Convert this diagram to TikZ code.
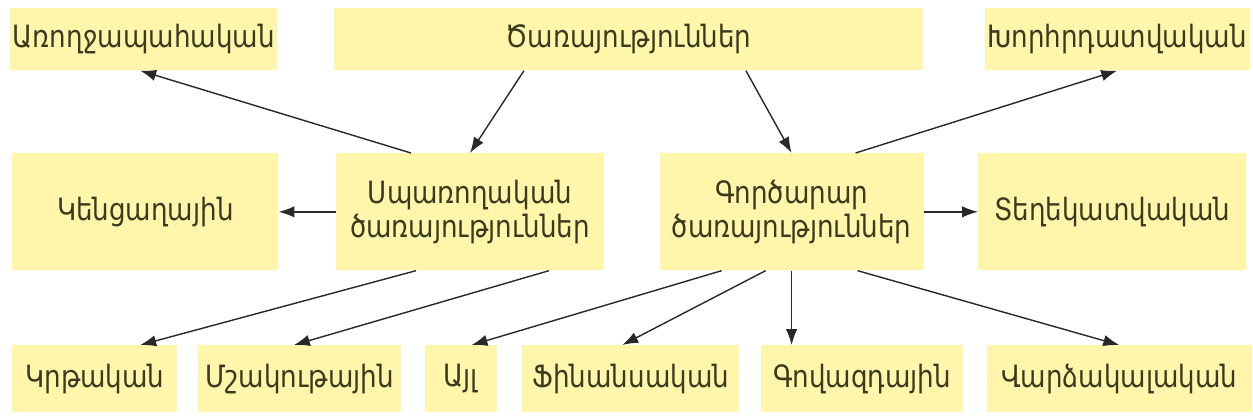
\documentclass[tikz,border=0pt]{standalone}
\usepackage{fontspec}
\setmainfont{DejaVu Sans}[FakeStretch=0.85]
\usetikzlibrary{arrows.meta,positioning}
\definecolor{boxfill}{RGB}{255,246,172}
\definecolor{boxtext}{RGB}{58,58,30}
\definecolor{linkgray}{RGB}{40,40,40}

\begin{document}
\begin{tikzpicture}[x=0.02cm,y=-0.02cm,
                    box/.style={fill=boxfill,text=boxtext,inner sep=0pt,align=center,
                                font=\fontsize{17.5}{19}\selectfont},
                    top/.style={box,minimum height=1.24cm},
                    mid/.style={box,minimum height=2.34cm},
                    low/.style={box,minimum height=1.34cm},
                    link/.style={draw=linkgray,line width=0.8pt,-{Latex[length=9pt,width=6.5pt]}}]

\useasboundingbox (0,0) rectangle (1253,419);

% upper row
\node[top,minimum width=5.34cm,anchor=north west] (heal) at (10,8) {Առողջապահական};
\node[top,minimum width=11.78cm,right=1.12cm of heal] (serv) {Ծառայություններ};
\node[top,minimum width=5.30cm,right=1.22cm of serv] (cons) {Խորհրդատվական};

% middle row
\node[mid,minimum width=5.32cm,anchor=north west] (daily) at (12,153) {Կենցաղային};
\node[mid,minimum width=5.36cm,right=1.14cm of daily] (cust) {Սպառողական\\ծառայություններ};
\node[mid,minimum width=5.28cm,right=1.10cm of cust] (bus) {Գործարար\\ծառայություններ};
\node[mid,minimum width=5.36cm,right=1.08cm of bus] (info) {Տեղեկատվական};

% lower row
\node[low,minimum width=3.30cm,anchor=north west] (edu) at (12,345) {Կրթական};
\node[low,minimum width=4.06cm,right=0.40cm of edu] (cult) {Մշակութային};
\node[low,minimum width=1.44cm,right=0.46cm of cult] (other) {Այլ};
\node[low,minimum width=4.34cm,right=0.50cm of other] (fin) {Ֆինանսական};
\node[low,minimum width=4.04cm,right=0.42cm of fin] (adv) {Գովազդային};
\node[low,minimum width=5.30cm,right=0.46cm of adv] (rent) {Վարձակալական};

\draw[link] ([xshift=-2.09cm]serv.south) -- (cust.north);
\draw[link] ([xshift=2.35cm]serv.south) -- (bus.north);
\draw[link] ([xshift=-1.18cm]cust.north) -- ([xshift=-0.07cm]heal.south);
\draw[link] ([xshift=1.28cm]bus.north) -- (cons.south);
\draw[link] (cust.west) -- (daily.east);
\draw[link] (bus.east) -- (info.west);

\draw[link] ([xshift=-1.08cm]cust.south) -- ([xshift=0.91cm]edu.north);
\draw[link] ([xshift=1.58cm]cust.south) -- ([xshift=-0.11cm]cult.north);
\draw[link] ([xshift=-1.40cm]bus.south) -- ([xshift=0.22cm]other.north);
\draw[link] ([xshift=-0.52cm]bus.south) -- ([xshift=-0.17cm]fin.north);
\draw[link] (bus.south) -- (bus.south |- adv.north);
\draw[link] ([xshift=1.32cm]bus.south) -- (rent.north);

\end{tikzpicture}
\end{document}
